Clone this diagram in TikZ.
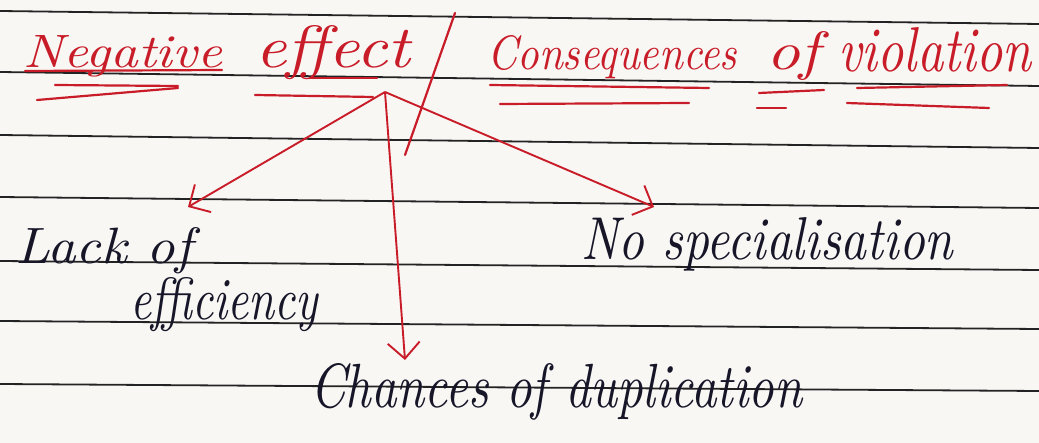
\documentclass[tikz,border=0pt]{standalone}
\usepackage{graphicx}
\usetikzlibrary{arrows.meta}
\definecolor{ink}{RGB}{200,28,40}
\definecolor{pen}{RGB}{22,22,40}
\definecolor{paper}{RGB}{249,247,244}
\definecolor{rulecol}{RGB}{35,35,35}
\newcommand{\hw}[3]{\resizebox{#1pt}{#2pt}{\itshape #3}}
\begin{document}
\begin{tikzpicture}[x=1pt,y=-1pt,
  ruled/.style={rulecol, line width=1.8pt},
  redtext/.style={ink, inner sep=0pt, anchor=base west},
  blacktext/.style={pen, inner sep=0pt, anchor=base west},
  redline/.style={ink, line width=2.2pt, line cap=round},
  branch/.style={ink, line width=1.9pt, -{Straight Barb[length=16pt,width=32pt,line width=1.9pt]}}]
\useasboundingbox (0,0) rectangle (1039,443);
\fill[paper] (0,0) rectangle (1039,443);
% ruled lines of the notebook page
\draw[ruled] (0,11) -- (1039,24);
\draw[ruled] (0,72) -- (1039,86);
\draw[ruled] (0,135) -- (1039,148);
\draw[ruled] (0,197) -- (1039,208);
\draw[ruled] (0,261) -- (1039,270);
\draw[ruled] (0,321) -- (1039,329);
\draw[ruled] (0,384) -- (1039,391);
% heading
\node[redtext] (neg) at (23,68) {\hw{199}{32}{Negative}};
\node[redtext] (eff) at (255,68) {\hw{155}{42}{effect}};
\node[redtext] (cons) at (487,70) {\hw{250}{34}{Consequences}};
\node[redtext] (of1) at (766,70) {\hw{54}{38}{of}};
\node[redtext] (viol) at (838,72) {\hw{193}{44}{violation}};
\draw[redline] (455,13) -- (405,155);
% underlines
\draw[redline] (25,71) -- (222,70);
\draw[redline] (55,85) -- (178,86);
\draw[redline] (37,100) -- (178,88);
\draw[redline] (255,95) -- (373,97);
\draw[redline] (310,78) -- (377,78);
\draw[redline] (490,85) -- (709,88);
\draw[redline] (500,104) -- (689,103);
\draw[redline] (759,93) -- (824,90);
\draw[redline] (757,108) -- (786,108);
\draw[redline] (857,88) -- (1007,85);
\draw[redline] (847,103) -- (989,108);
% branches
\coordinate (o) at (385,92);
\coordinate (tl) at (188,207);
\coordinate (td) at (405,360);
\coordinate (tr) at (654,207);
\draw[branch] (o) -- (tl);
\draw[branch] (o) -- (td);
\draw[branch] (o) -- (tr);
% items
\node[blacktext] (lack) at (15,264) {\hw{177}{36}{Lack of}};
\node[blacktext] (effi) at (130,320) {\hw{188}{42}{efficiency}};
\node[blacktext] (spec) at (581,260) {\hw{372}{42}{No specialisation}};
\node[blacktext] (dup) at (310,408) {\hw{492}{44}{Chances of duplication}};
\end{tikzpicture}
\end{document}
